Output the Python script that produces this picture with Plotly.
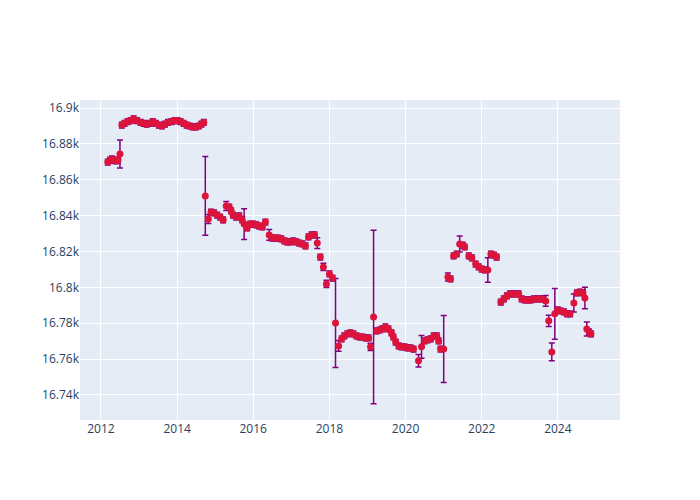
import numpy as np
import pandas as pd
import plotly.graph_objects as go

# decimal year of each observation
years = [
    2012.18, 2012.24, 2012.29, 2012.34, 2012.39, 2012.45, 2012.50,
    2012.55, 2012.62, 2012.70, 2012.78, 2012.86, 2012.95, 2013.04, 2013.12,
    2013.20, 2013.28, 2013.36, 2013.44, 2013.52, 2013.60, 2013.68, 2013.76,
    2013.85, 2013.93, 2014.01, 2014.09, 2014.17, 2014.25, 2014.33, 2014.41,
    2014.49, 2014.57, 2014.64, 2014.70,
    2014.74, 2014.82, 2014.89, 2014.97, 2015.05, 2015.13, 2015.21, 2015.29,
    2015.37, 2015.42, 2015.47, 2015.55, 2015.63, 2015.71, 2015.76, 2015.84,
    2015.92, 2016.00, 2016.08, 2016.16, 2016.24, 2016.32, 2016.42, 2016.50,
    2016.58, 2016.66, 2016.74, 2016.82, 2016.89, 2016.97, 2017.05, 2017.13,
    2017.21, 2017.29, 2017.37, 2017.45, 2017.53, 2017.61, 2017.68, 2017.76,
    2017.84, 2017.92, 2018.00, 2018.08, 2018.16, 2018.24, 2018.32, 2018.39,
    2018.47, 2018.55, 2018.63, 2018.71, 2018.79, 2018.87, 2018.95, 2019.03,
    2019.08, 2019.16, 2019.24, 2019.32, 2019.39, 2019.47, 2019.55, 2019.63,
    2019.68, 2019.74, 2019.82, 2019.89, 2019.97, 2020.05, 2020.13, 2020.21,
    2020.34, 2020.42, 2020.50, 2020.58, 2020.66, 2020.74, 2020.82, 2020.87,
    2020.92, 2021.00, 2021.11, 2021.18, 2021.26, 2021.34, 2021.42, 2021.50,
    2021.55, 2021.66, 2021.74, 2021.84, 2021.92, 2022.00, 2022.08, 2022.16,
    2022.24, 2022.32, 2022.39, 2022.50, 2022.58, 2022.66, 2022.74, 2022.82,
    2022.89, 2022.97, 2023.05, 2023.13, 2023.21, 2023.29, 2023.37, 2023.45,
    2023.53, 2023.61, 2023.68, 2023.76, 2023.84, 2023.92, 2024.00, 2024.08,
    2024.16, 2024.24, 2024.32, 2024.42, 2024.50, 2024.58, 2024.66, 2024.71,
    2024.76, 2024.82, 2024.87,
]

values = [
    16869.9, 16871.0, 16871.6, 16871.0, 16870.5, 16871.0, 16874.4,
    16890.5, 16891.5, 16892.5, 16893.0, 16894.0, 16893.0, 16892.0, 16891.5,
    16891.0, 16891.5, 16892.5, 16891.5, 16890.5, 16890.0, 16891.0, 16892.0,
    16892.5, 16893.0, 16893.0, 16892.5, 16891.5, 16890.5, 16890.0, 16889.5,
    16889.5, 16890.0, 16891.0, 16892.0,
    16851.0, 16838.1, 16842.0, 16841.5, 16840.3, 16839.2, 16837.6, 16845.4,
    16844.8, 16842.6, 16840.3, 16839.2, 16839.8, 16837.6, 16835.3, 16833.1,
    16835.3, 16835.3, 16834.8, 16834.2, 16833.7, 16836.4, 16829.2, 16827.5,
    16827.5, 16827.5, 16827.0, 16825.9, 16825.3, 16825.3, 16825.9, 16825.3,
    16824.7, 16824.2, 16823.1, 16828.1, 16829.2, 16829.2, 16824.7, 16816.9,
    16811.4, 16801.9, 16807.5, 16805.2, 16780.1, 16767.3, 16771.2, 16772.9,
    16774.0, 16774.6, 16774.0, 16772.9, 16772.3, 16772.3, 16771.8, 16771.8,
    16766.8, 16783.5, 16775.7, 16776.2, 16776.8, 16777.9, 16776.8, 16774.6,
    16772.3, 16769.5, 16767.3, 16766.8, 16766.8, 16766.2, 16766.2, 16765.6,
    16759.0, 16766.8, 16770.1, 16770.7, 16771.2, 16772.9, 16772.9, 16770.1,
    16765.6, 16765.6, 16805.8, 16804.7, 16817.5, 16818.6, 16824.2, 16823.6,
    16822.5, 16817.5, 16816.4, 16813.0, 16811.4, 16810.2, 16809.7, 16809.7,
    16818.6, 16818.0, 16816.9, 16791.8, 16793.5, 16795.2, 16796.3, 16796.3,
    16796.3, 16796.3, 16793.5, 16793.0, 16793.0, 16793.0, 16793.5, 16793.5,
    16793.5, 16793.5, 16792.4, 16781.3, 16764.0, 16785.2, 16787.4, 16786.8,
    16786.3, 16785.2, 16785.2, 16791.3, 16796.9, 16797.4, 16796.9, 16794.1,
    16776.8, 16775.1, 16774.0,
]

errors = [
    1.6, 1.6, 1.6, 1.6, 1.6, 1.6, 7.8,
    1.6, 1.6, 1.6, 1.6, 1.6, 1.6, 1.6, 1.6,
    1.6, 1.6, 1.6, 1.6, 1.6, 1.6, 1.6, 1.6,
    1.6, 1.6, 1.6, 1.6, 1.6, 1.6, 1.6, 1.6,
    1.6, 1.6, 1.6, 1.6,
    22.0, 2.5, 1.6, 1.6, 1.6, 1.6, 1.6, 2.5,
    1.6, 1.6, 1.6, 1.6, 1.6, 1.6, 8.6, 1.6,
    1.6, 1.6, 1.6, 1.6, 1.6, 1.6, 3.0, 1.6,
    1.6, 1.6, 1.6, 1.6, 1.6, 1.6, 1.6, 1.6,
    1.6, 1.6, 1.6, 1.6, 1.6, 1.6, 3.0, 1.6,
    2.0, 2.0, 1.6, 1.6, 24.8, 3.0, 1.6, 1.6,
    1.6, 1.6, 1.6, 1.6, 1.6, 1.6, 1.6, 1.6,
    2.0, 48.4, 1.6, 1.6, 1.6, 1.6, 1.6, 1.6,
    1.6, 1.6, 1.6, 1.6, 1.6, 1.6, 1.6, 1.6,
    3.5, 6.4, 1.6, 1.6, 1.6, 1.6, 1.6, 1.6,
    1.6, 18.7, 2.2, 1.6, 1.6, 1.6, 4.5, 1.6,
    1.6, 1.6, 1.6, 1.6, 1.6, 1.6, 1.6, 6.8,
    1.6, 1.6, 1.6, 1.6, 1.6, 1.6, 1.6, 1.6,
    1.6, 1.6, 1.6, 1.6, 1.6, 1.6, 1.6, 1.6,
    1.6, 1.6, 3.0, 3.1, 5.0, 14.1, 1.6, 1.6,
    1.6, 1.6, 1.6, 5.0, 1.6, 1.6, 1.6, 6.0,
    3.9, 1.6, 1.6,
]


def to_date(y):
    yr = int(np.floor(y))
    return pd.Timestamp(yr, 1, 1) + pd.Timedelta(days=(y - yr) * 365.25)


dates = [to_date(y) for y in years]

fig = go.Figure()
fig.add_trace(go.Scatter(
    x=dates, y=values, mode="markers",
    marker=dict(color="crimson", size=7),
    error_y=dict(type="data", array=errors, visible=True,
                 color="purple", thickness=1.5, width=3),
))

fig.update_layout(
    width=700, height=500,
    margin=dict(l=80, r=80, t=100, b=80),
    showlegend=False,
)
fig.update_xaxes(range=[to_date(2011.45), to_date(2025.63)],
                 dtick="M24", tick0="2012-01-01")
fig.update_yaxes(range=[16726, 16904.5], dtick=20)

# page has no body margin so the figure sits at the window corner
fig.write_html("out.html", config={"displayModeBar": False},
               post_script="document.body.style.margin='0';")
